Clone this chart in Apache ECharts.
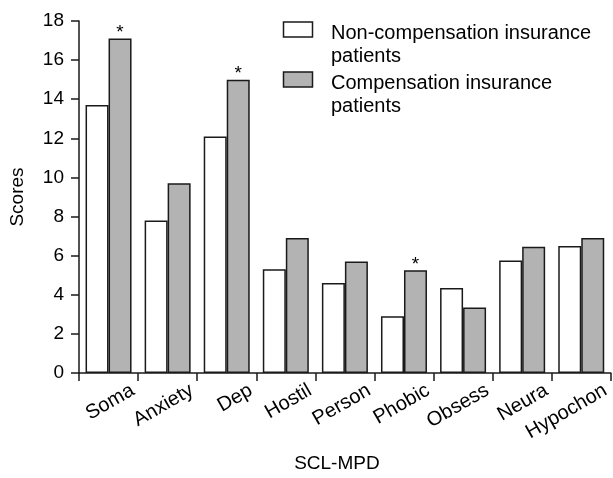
<!DOCTYPE html>
<html><head><meta charset="utf-8">
<script src="https://cdn.jsdelivr.net/npm/echarts@6/dist/echarts.min.js"></script>
<style>html,body{margin:0;padding:0;background:#fff}#c{width:613px;height:478px}</style>
</head><body><div id="c"></div>
<script>
const categories = ['Soma', 'Anxiety', 'Dep', 'Hostil', 'Person', 'Phobic', 'Obsess', 'Neura', 'Hypochon'];
const nonCompensation = [13.7, 7.8, 12.1, 5.3, 4.6, 2.9, 4.35, 5.75, 6.5];
const compensation = [17.1, 9.7, 15.0, 6.9, 5.7, 5.25, 3.35, 6.45, 6.9];
const significant = [true, false, true, false, false, true, false, false, false];
const seriesNames = ['Non-compensation insurance', 'Compensation insurance'];
const legendSecondLine = 'patients';
const yMin = 0, yMax = 18, yStep = 2;

const FONT = '"Liberation Sans", Arial, Helvetica, sans-serif';
const chart = echarts.init(document.getElementById('c'), null, {renderer: 'canvas'});

function legendGraphics() {
  const out = [];
  const fills = ['#ffffff', '#b3b3b3'];
  const boxTop = [22, 72];
  const lineMid = [[33, 56], [83, 106]];
  for (let i = 0; i < 2; i++) {
    out.push({type: 'rect', shape: {x: 283.5, y: boxTop[i], width: 29, height: 15},
      style: {fill: fills[i], stroke: '#1a1a1a', lineWidth: 1.5}});
    out.push({type: 'text', x: 331, y: lineMid[i][0],
      style: {text: seriesNames[i], font: '20px ' + FONT, fill: '#000', verticalAlign: 'middle', align: 'left'}});
    out.push({type: 'text', x: 331, y: lineMid[i][1],
      style: {text: legendSecondLine, font: '20px ' + FONT, fill: '#000', verticalAlign: 'middle', align: 'left'}});
  }
  return out;
}

chart.setOption({
  animation: false,
  backgroundColor: '#ffffff',
  grid: {left: 79, right: 0.5, top: 21, bottom: 105, containLabel: false},
  xAxis: {
    type: 'category',
    data: categories,
    boundaryGap: true,
    name: 'SCL-MPD',
    nameLocation: 'middle',
    nameGap: 81,
    nameTextStyle: {fontFamily: FONT, fontSize: 19, color: '#000', padding: [0, 16, 0, 0]},
    axisLine: {show: true, lineStyle: {color: '#1a1a1a', width: 1.5}},
    axisTick: {show: true, length: 8, alignWithLabel: false, lineStyle: {color: '#1a1a1a', width: 1.5}},
    axisLabel: {rotate: 30, fontFamily: FONT, fontSize: 20, color: '#000', margin: 30, interval: 0,
      padding: [0, -28, 0, 0]},
    splitLine: {show: false}
  },
  yAxis: {
    type: 'value',
    min: yMin, max: yMax, interval: yStep,
    name: 'Scores',
    nameLocation: 'middle',
    nameGap: 52,
    nameTextStyle: {fontFamily: FONT, fontSize: 19, color: '#000'},
    axisLine: {show: true, lineStyle: {color: '#1a1a1a', width: 1.5}},
    axisTick: {show: true, length: 8, lineStyle: {color: '#1a1a1a', width: 1.5}},
    axisLabel: {fontFamily: FONT, fontSize: 19, color: '#000', margin: 15},
    splitLine: {show: false}
  },
  series: [
    {
      name: seriesNames[0], type: 'bar', data: nonCompensation,
      barWidth: 23, barGap: '0%',
      itemStyle: {color: '#ffffff', borderColor: '#1a1a1a', borderWidth: 1.5}
    },
    {
      name: seriesNames[1], type: 'bar', data: compensation,
      barWidth: 23, barGap: '0%',
      itemStyle: {color: '#b3b3b3', borderColor: '#1a1a1a', borderWidth: 1.5},
      label: {
        show: true, position: 'top', distance: -4,
        fontFamily: FONT, fontSize: 19, color: '#000',
        formatter: p => significant[p.dataIndex] ? '*' : ''
      }
    }
  ],
  graphic: legendGraphics()
});
</script></body></html>
